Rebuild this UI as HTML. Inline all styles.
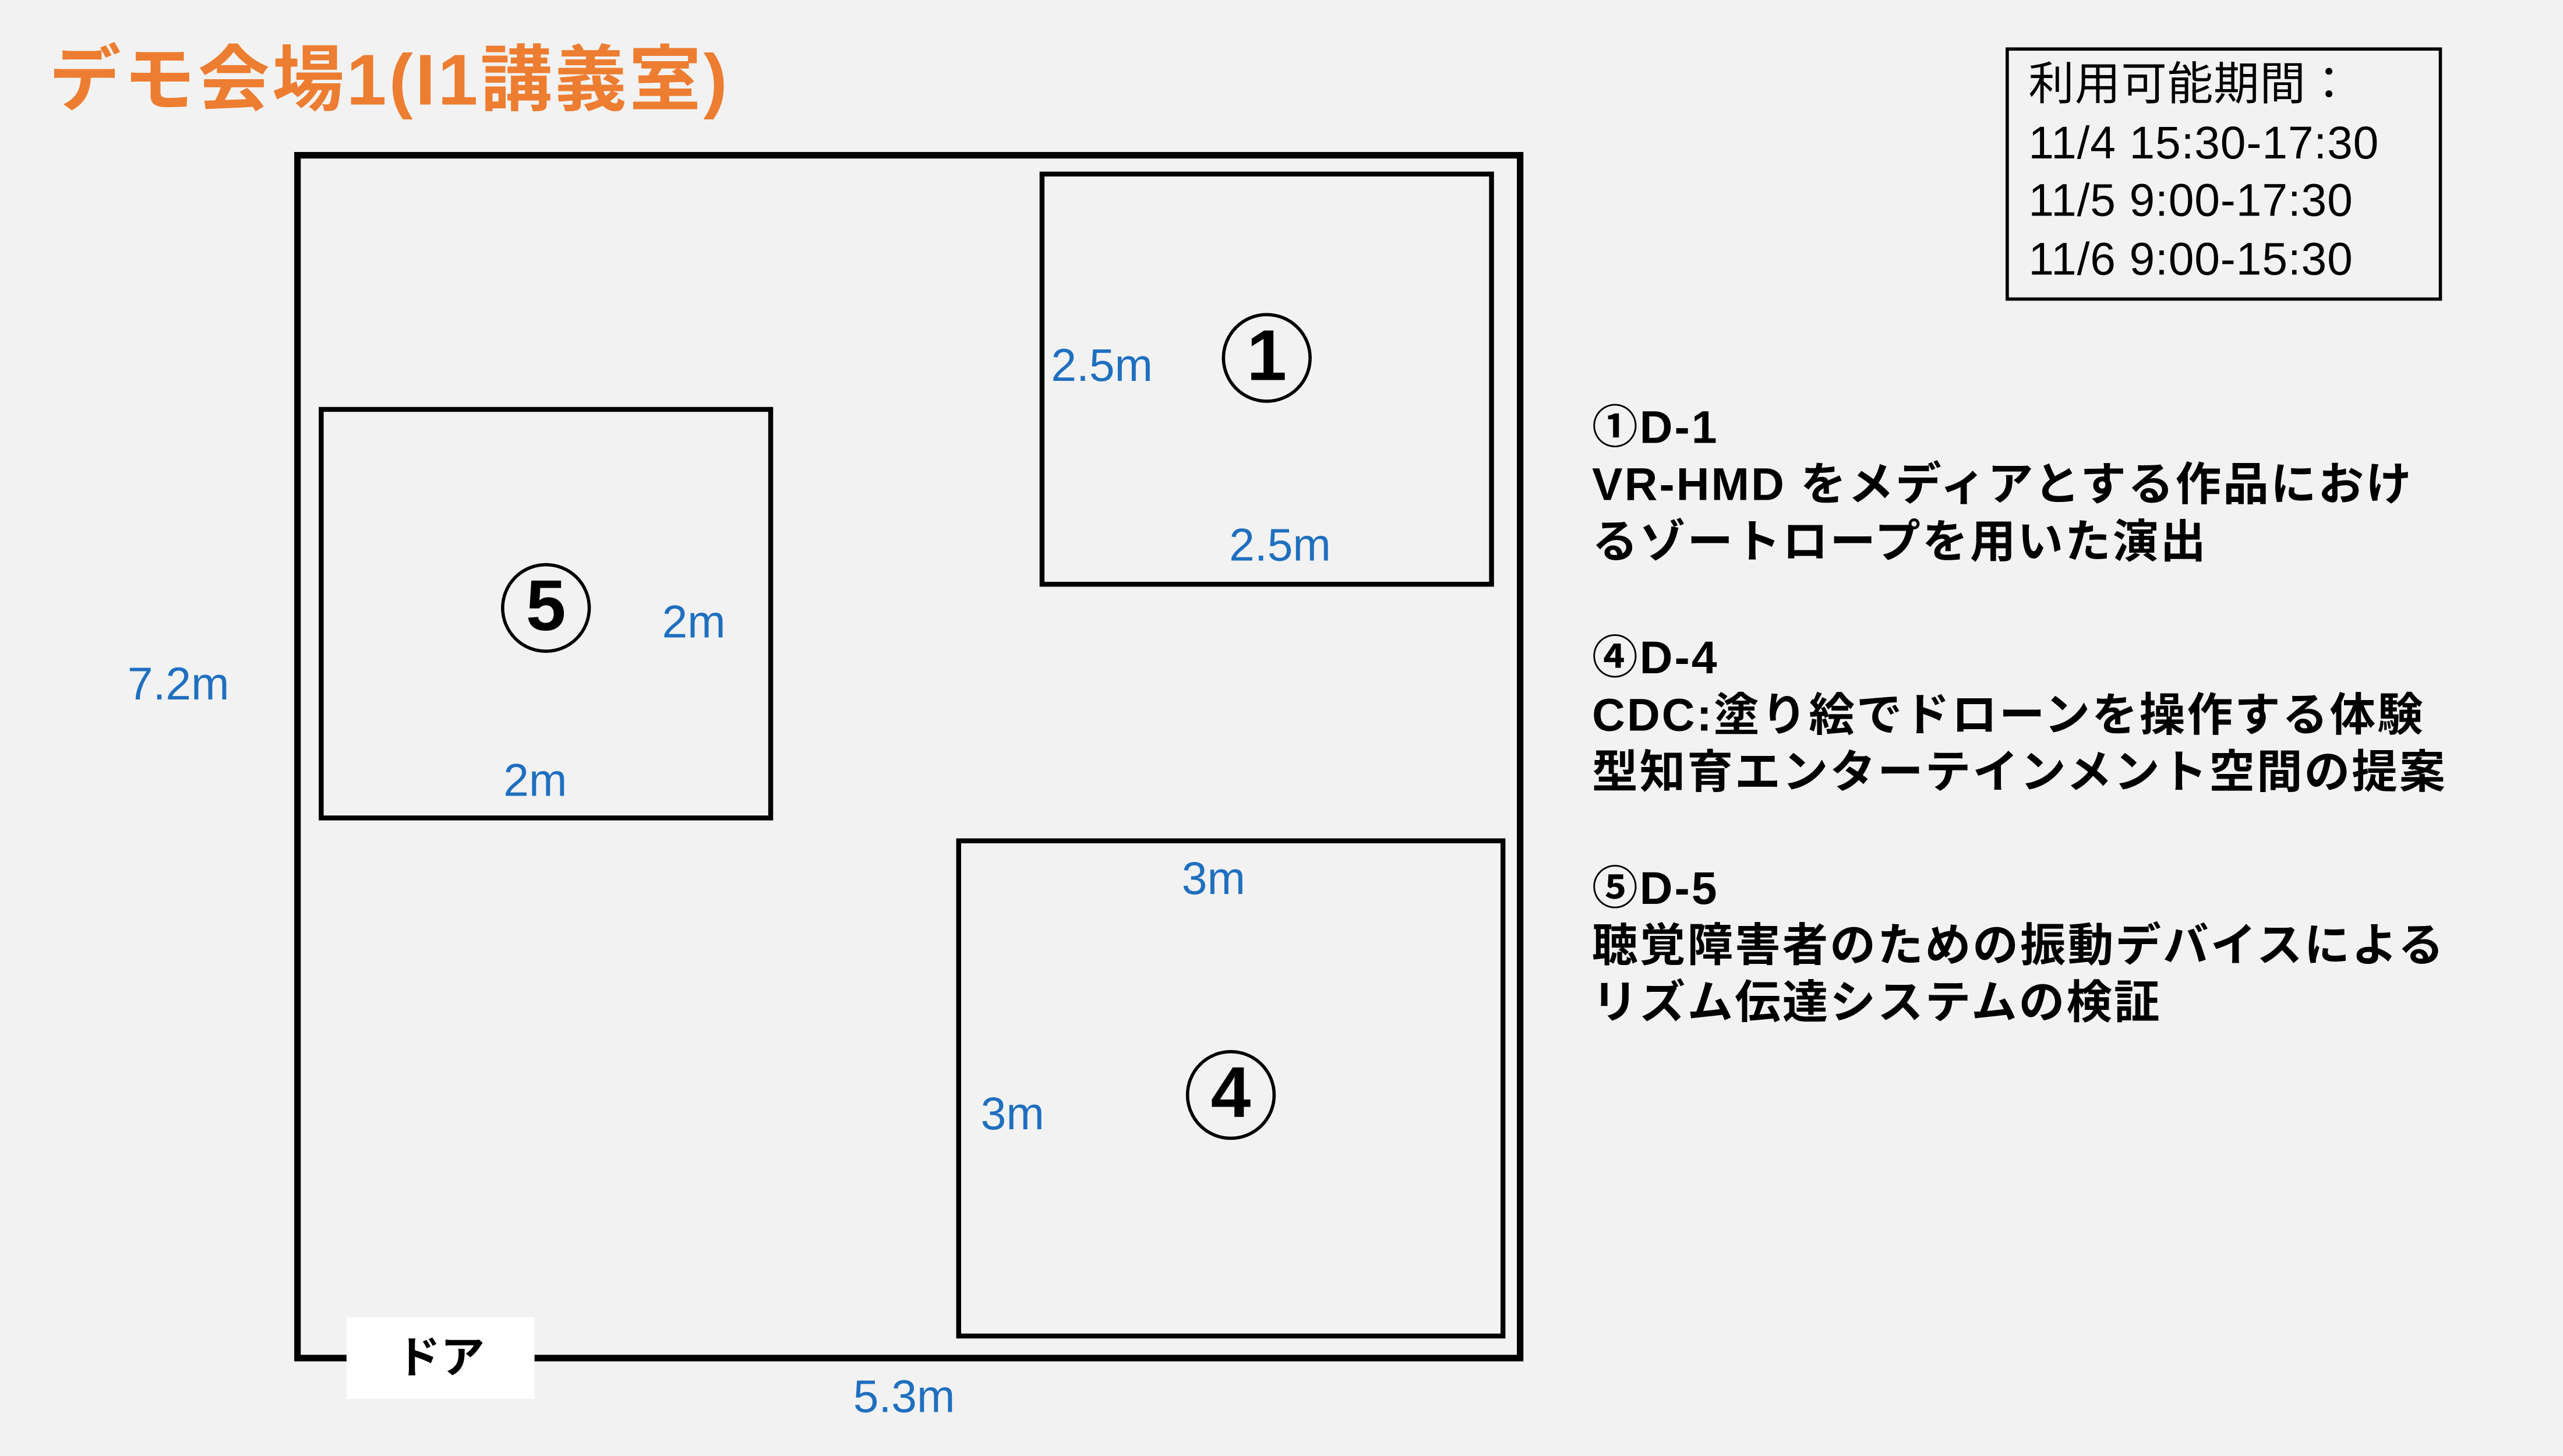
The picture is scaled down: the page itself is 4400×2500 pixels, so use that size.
<!DOCTYPE html>
<html><head><meta charset="utf-8"><style>
html,body{margin:0;padding:0;background:#f2f2f2;overflow:hidden}
#w{position:absolute;left:0;top:0;width:1568px;height:891px;transform-origin:0 0;transform:scale(2.8061);background:#f2f2f2;font-family:"Liberation Sans","Noto Sans CJK JP",sans-serif}
.a{position:absolute;white-space:nowrap}
.b{position:absolute;border:3px solid #000;box-sizing:border-box}
.m{position:absolute;color:#1f6fbf;font-size:28px;line-height:1;transform:translateY(-50%)}
.c{position:absolute;width:55px;height:55px;border:2.5px solid #000;border-radius:50%;box-sizing:border-box;font-weight:bold;font-size:44px;line-height:50px;text-align:center;transform:translate(-50%,-50%)}
.t{position:absolute;left:974px;font-weight:bold;font-size:28px;line-height:35px;color:#000;letter-spacing:1.1px}
</style></head><body><div id="w">
<div class="a" style="left:30px;top:24px;font-size:44px;font-weight:bold;color:#ed7d31;line-height:52px;letter-spacing:1.5px">デモ会場1(I1講義室)</div>
<div class="b" style="left:180px;top:93px;width:752px;height:740px;border-width:4px"></div>
<div class="b" style="left:636px;top:105px;width:278px;height:254px"></div>
<div class="b" style="left:195px;top:249px;width:278px;height:253px"></div>
<div class="b" style="left:585px;top:513px;width:336px;height:306px"></div>
<div class="a" style="left:212px;top:806px;width:115px;height:50px;background:#fff;font-weight:bold;font-size:27px;line-height:50px;text-align:center">ドア</div>
<div class="m" style="left:643px;top:224px">2.5m</div>
<div class="m" style="left:752px;top:334px">2.5m</div>
<div class="m" style="left:405px;top:381px">2m</div>
<div class="m" style="left:308px;top:478px">2m</div>
<div class="m" style="left:78px;top:419px">7.2m</div>
<div class="m" style="left:723px;top:538px">3m</div>
<div class="m" style="left:600px;top:682px">3m</div>
<div class="m" style="left:522px;top:855px">5.3m</div>
<div class="c" style="left:775px;top:219px">1</div>
<div class="c" style="left:334px;top:372px">5</div>
<div class="c" style="left:753px;top:670px">4</div>
<div class="b" style="left:1227px;top:29px;width:267px;height:155px;border-width:2px;font-size:28px;line-height:35.5px;padding:3px 0 0 12px;white-space:nowrap;letter-spacing:0.3px">利用可能期間：<br>11/4 15:30-17:30<br>11/5 9:00-17:30<br>11/6 9:00-15:30</div>
<div class="t" style="top:244px">①D-1<br>VR-HMD をメディアとする作品におけ<br>るゾートロープを用いた演出</div>
<div class="t" style="top:385px">④D-4<br>CDC:塗り絵でドローンを操作する体験<br>型知育エンターテインメント空間の提案</div>
<div class="t" style="top:526px">⑤D-5<br>聴覚障害者のための振動デバイスによる<br>リズム伝達システムの検証</div>
</div></body></html>
